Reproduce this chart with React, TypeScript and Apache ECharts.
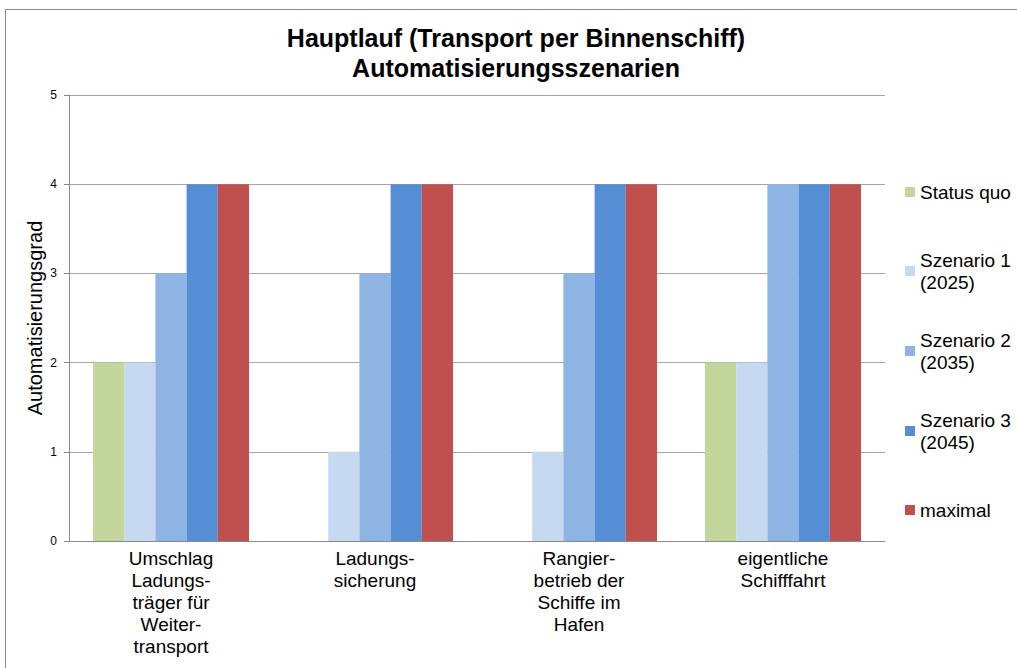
import React, { useEffect, useRef } from "react";
import * as echarts from "echarts";

const categories = [
  "Umschlag\nLadungs-\nträger für\nWeiter-\ntransport",
  "Ladungs-\nsicherung",
  "Rangier-\nbetrieb der\nSchiffe im\nHafen",
  "eigentliche\nSchifffahrt",
];
const seriesNames = ["Status quo", "Szenario 1\n(2025)", "Szenario 2\n(2035)", "Szenario 3\n(2045)", "maximal"];
const statusQuo = [2, 0, 0, 2];
const szenario1 = [2, 1, 1, 2];
const szenario2 = [3, 3, 3, 4];
const szenario3 = [4, 4, 4, 4];
const maximal = [4, 4, 4, 4];
const yTicks = [0, 1, 2, 3, 4, 5];
const yAxisTitle = "Automatisierungsgrad";
const colors = ["#C3D69B", "#C6D9F1", "#8EB4E3", "#558ED5", "#C0504D"];
const legendTops = [181, 238, 318, 398, 499];

const FONT = "Liberation Sans, Arial, sans-serif";

export default function App() {
  const ref = useRef<HTMLDivElement>(null);
  useEffect(() => {
    document.body.style.margin = "0";
    document.body.style.overflow = "hidden";
    const chart = echarts.init(ref.current!, null, { renderer: "svg" });
    const values = [statusQuo, szenario1, szenario2, szenario3, maximal];
    chart.setOption({
      animation: false,
      title: {
        text: "Hauptlauf (Transport per Binnenschiff)\nAutomatisierungsszenarien",
        left: 511,
        top: 18,
        textAlign: "center",
        textStyle: { fontFamily: FONT, fontSize: 25, fontWeight: "bold", color: "#000", lineHeight: 30 },
      },
      graphic: [
        {
          type: "rect",
          shape: { x: 5.5, y: 9.5, width: 1100, height: 700 },
          style: { fill: "none", stroke: "#898989", lineWidth: 1 },
          silent: true,
        },
        {
          type: "text",
          x: 35,
          y: 318,
          rotation: Math.PI / 2,
          silent: true,
          style: {
            text: yAxisTitle,
            fontFamily: FONT,
            fontSize: 20,
            fill: "#000",
            align: "center",
            verticalAlign: "middle",
          },
        },
      ],
      legend: seriesNames.map((n, i) => ({
        data: [n],
        left: 905,
        top: legendTops[i],
        padding: 0,
        itemWidth: 10,
        itemHeight: 10,
        itemGap: 0,
        icon: "rect",
        selectedMode: false,
        textStyle: {
          fontFamily: FONT,
          fontSize: 19,
          color: "#000",
          lineHeight: 22,
          padding: n.includes("\n") ? [22, 0, 0, 0] : 0,
        },
      })),
      grid: { left: 69, right: 132, top: 95, bottom: 127 },
      xAxis: {
        type: "category",
        data: categories,
        axisLine: { lineStyle: { color: "#898989" } },
        axisTick: { show: false },
        axisLabel: {
          interval: 0,
          margin: 6,
          fontFamily: FONT,
          fontSize: 19,
          lineHeight: 22,
          color: "#000",
        },
      },
      yAxis: {
        type: "value",
        min: 0,
        max: 5,
        interval: 1,
        axisLine: { show: true, lineStyle: { color: "#898989" } },
        axisTick: { show: true, inside: false, length: 5, lineStyle: { color: "#898989" } },
        splitLine: { lineStyle: { color: "#a6a6a6" } },
        axisLabel: {
          margin: 12,
          fontFamily: FONT,
          fontSize: 12,
          color: "#000",
          formatter: (v: number) => (yTicks.includes(v) ? String(v) : ""),
        },
      },
      series: seriesNames.map((n, i) => ({
        name: n,
        type: "bar",
        data: values[i],
        barGap: "0%",
        barCategoryGap: "23.5%",
        itemStyle: { color: colors[i] },
      })),
    });
    return () => chart.dispose();
  }, []);
  return <div ref={ref} style={{ width: 1017, height: 668 }} />;
}
